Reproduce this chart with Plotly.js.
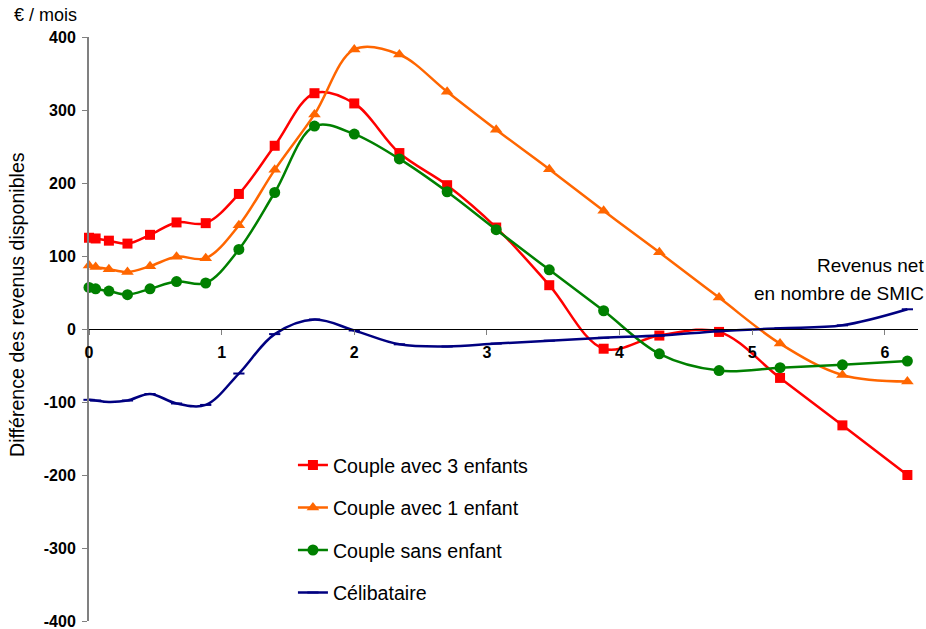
<!DOCTYPE html>
<html>
<head>
<meta charset="utf-8">
<script src="https://cdn.plot.ly/plotly-3.0.1.min.js"></script>
<style>html,body{margin:0;padding:0;background:#fff;}#chart{width:926px;height:629px;}</style>
</head>
<body>
<div id="chart"></div>
<script>
// Revenu net en nombre de SMIC
const revenus = [0, 0.05, 0.15, 0.29, 0.46, 0.66, 0.88, 1.13, 1.40, 1.70, 2.00, 2.34, 2.70, 3.07, 3.47, 3.88, 4.30, 4.75, 5.21, 5.68, 6.17];
// Différence des revenus disponibles (€ / mois)
const couple3 = [125, 124, 121, 117, 129, 146, 145, 185, 251, 323, 309, 241, 197, 139, 60, -27, -9, -4, -67, -132, -200];
const couple1 = [87, 85, 82, 78, 86, 99, 97, 142, 218, 294, 383, 376, 325, 273, 219, 162, 105, 43, -20, -63, -72];
const couple0 = [57, 55, 52, 47, 55, 65, 63, 109, 187, 278, 267, 233, 188, 136, 81, 25, -34, -57, -53, -49, -44];
const celib = [-97, -98, -100, -98, -89, -102, -104, -61, -7, 13, -2, -21, -24, -20, -16, -12, -9, -3, 1, 5, 27];

const seriesNames = ["Couple avec 3 enfants", "Couple avec 1 enfant", "Couple sans enfant", "Célibataire"];
const xTicks = [0, 1, 2, 3, 4, 5, 6];
const yTicks = [-400, -300, -200, -100, 0, 100, 200, 300, 400];

const FONT = "Liberation Sans, Arial, Helvetica, sans-serif";

function trace(y, name, color, symbol, msize, i) {
  const t = {
    x: revenus, y: y, name: name, type: "scatter", mode: "lines+markers",
    legendgroup: "g" + i,
    line: {color: color, width: 2.5, shape: "spline", smoothing: 1},
    marker: {color: color, symbol: symbol, size: msize, line: {width: 0}},
    cliponaxis: false
  };
  if (symbol === "line-ew") t.marker.line = {color: color, width: 2};
  return t;
}

const data = [
  trace(couple3, seriesNames[0], "#FF0000", "square", 10, 0),
  trace(couple1, seriesNames[1], "#FF6600", "triangle-up", 11, 1),
  trace(couple0, seriesNames[2], "#008000", "circle", 11, 2),
  trace(celib, seriesNames[3], "#000080", "line-ew", 8, 3)
];

const layout = {
  width: 926, height: 629,
  margin: {l: 89, r: 8, t: 37, b: 8},
  paper_bgcolor: "#fff", plot_bgcolor: "#fff",
  font: {family: FONT, color: "#000"},
  showlegend: true,
  legend: {
    x: 0.246, xanchor: "left", y: 0.300, yanchor: "top",
    font: {family: FONT, size: 19.6, color: "#000"},
    tracegroupgap: 14, bgcolor: "rgba(0,0,0,0)", itemwidth: 30
  },
  xaxis: {
    range: [0, 6.25], anchor: "free", position: 0.5,
    tickvals: xTicks, ticktext: xTicks.map(String),
    showline: true, linecolor: "#000", linewidth: 1.2,
    ticks: "outside", ticklen: 5, tickcolor: "#808080", tickwidth: 1,
    ticklabelstandoff: 4,
    showgrid: false, zeroline: false,
    tickfont: {family: FONT, size: 16, color: "#000", weight: "bold"}
  },
  yaxis: {
    range: [-400, 400],
    tickvals: yTicks, ticktext: yTicks.map(String),
    showline: true, linecolor: "#808080", linewidth: 2,
    ticks: "outside", ticklen: 5, tickcolor: "#808080",
    ticklabelstandoff: 3, ticklabeloverflow: "allow",
    showgrid: false, zeroline: false,
    tickfont: {family: FONT, size: 16, color: "#000", weight: "bold"}
  },
  annotations: [
    {text: "€ / mois", xref: "paper", yref: "paper", x: (12 - 89) / 829, y: (621 - 15) / 584, xanchor: "left", yanchor: "middle", showarrow: false, font: {family: FONT, size: 18, color: "#000"}},
    {text: "Différence des revenus disponibles", xref: "paper", yref: "paper", x: (17 - 89) / 829, y: (621 - 305) / 584, xanchor: "center", yanchor: "middle", textangle: -90, showarrow: false, font: {family: FONT, size: 19.6, color: "#000"}},
    {text: "Revenus net", xref: "paper", yref: "paper", x: 1.010, y: (621 - 265) / 584, xanchor: "right", yanchor: "middle", showarrow: false, font: {family: FONT, size: 19, color: "#000"}},
    {text: "en nombre de SMIC", xref: "paper", yref: "paper", x: 1.010, y: (621 - 293) / 584, xanchor: "right", yanchor: "middle", showarrow: false, font: {family: FONT, size: 19, color: "#000"}}
  ]
};

Plotly.newPlot("chart", data, layout, {displayModeBar: false, responsive: false});
</script>
</body>
</html>
